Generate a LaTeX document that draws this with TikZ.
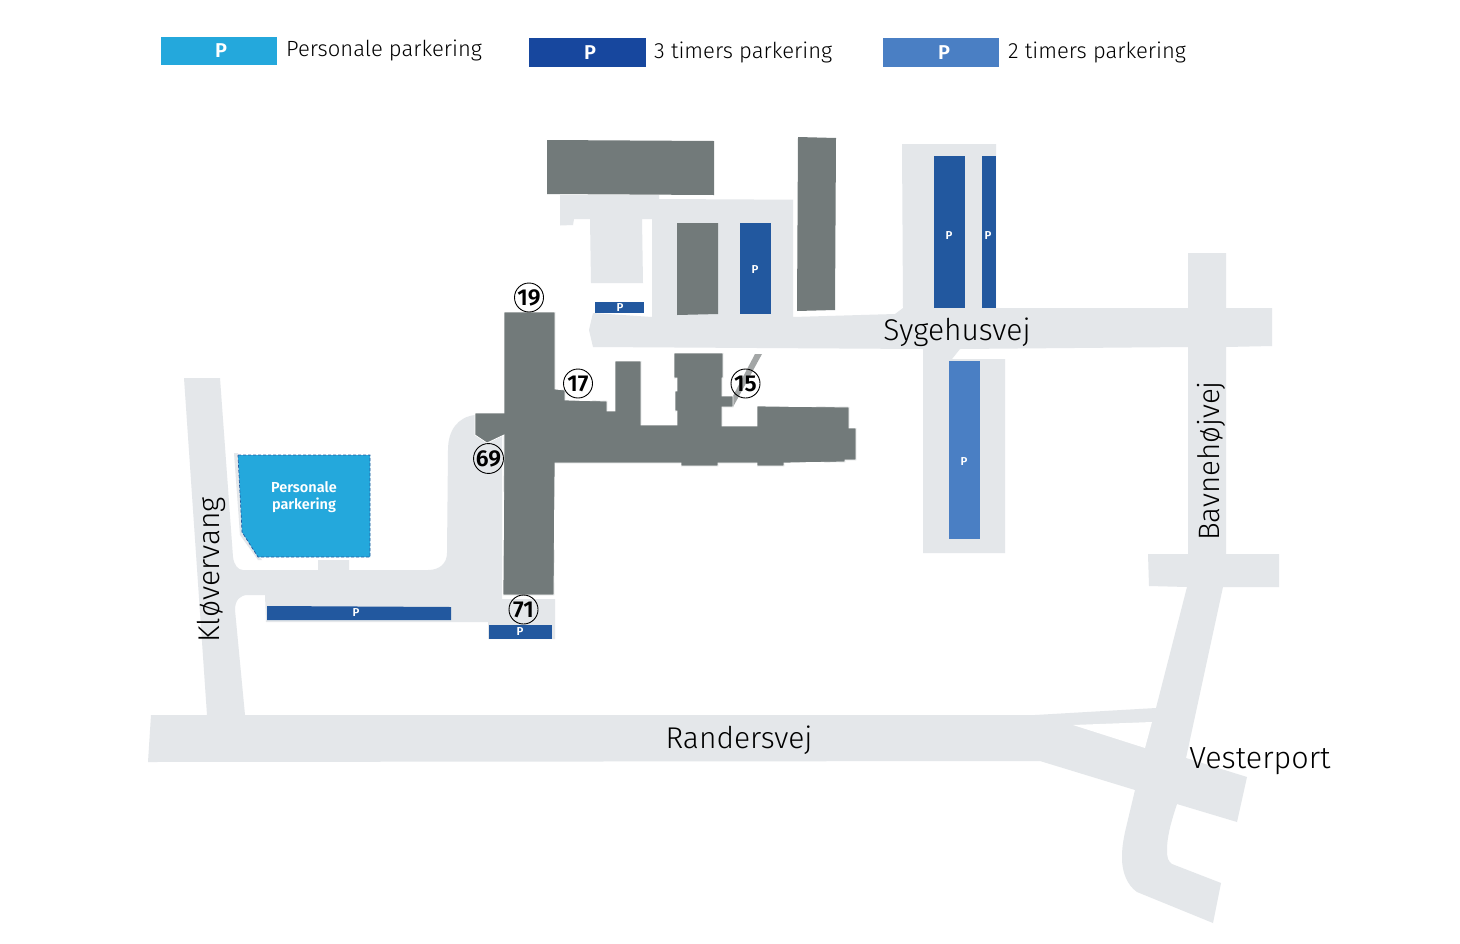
\documentclass[tikz,border=0pt]{standalone}
\usepackage{fontspec}
\setmainfont{Fira Sans}
\newfontfamily\lightf{Fira Sans Light}
\newfontfamily\boldf{Fira Sans SemiBold}
\definecolor{road}{HTML}{E4E7EA}
\definecolor{bldg}{HTML}{727A7A}
\definecolor{strip}{HTML}{A3A6A6}
\definecolor{staff}{HTML}{24A8DC}
\definecolor{bluea}{HTML}{22589F}
\definecolor{blueb}{HTML}{17479E}
\definecolor{bluec}{HTML}{4A7FC4}
\tikzset{
  roadarea/.style={fill=road,draw=none},
  building/.style={fill=bldg,draw=none},
  mainblock/.style={fill=bldg,draw=white,line width=0.8pt,line join=miter},
  bay/.style={fill=bluea,draw=none},
  pmark/.style={text=white,font=\boldf\fontsize{11.5}{11.5}\selectfont,inner sep=0pt},
  pbig/.style={text=white,font=\boldf\fontsize{20}{20}\selectfont,inner sep=0pt},
  legendtxt/.style={text=black,font=\lightf\fontsize{22}{24}\selectfont,anchor=west,inner sep=0pt},
  street/.style={text=black,font=\lightf\fontsize{30}{32}\selectfont,inner sep=0pt},
  numc/.style={circle,draw=black,line width=0.9pt,minimum size=29pt,inner sep=0pt,text=black,font=\boldf\fontsize{23}{23}\selectfont},
}
\begin{document}
\begin{tikzpicture}[x=1pt,y=-1pt]
\useasboundingbox (0,0) rectangle (1460,943);
\fill[white] (0,0) rectangle (1460,943);
% Sygehusvej and the yards north of it
\fill[roadarea] (589,330) -- (593,313) -- (652,317) -- (652,219) -- (642,219) -- (643,283) -- (591,283) -- (590,219) -- (574,219) -- (573,225) -- (560,225.5) -- (560,195) -- (659,195) -- (659,199) -- (793,199.7) -- (793,317) -- (895,314) -- (903,308) -- (902,144) -- (996,144) -- (996,308) -- (1188,308) -- (1188,253) -- (1226,253) -- (1226,308) -- (1272,308) -- (1272,346) -- (1226,347) -- (1226,554) -- (1279,554) -- (1279,587) -- (1223,587) -- (1186,758) -- (1247,777) -- (1237,822) -- (1177,804) .. controls (1170,825) and (1167,838) .. (1167,850) .. controls (1167,858) and (1168,861) .. (1172,864) -- (1221,883) -- (1213,923) -- (1137,892) .. controls (1127,885) and (1122,872) .. (1122,858) .. controls (1122,848) and (1123,842) .. (1125,832) -- (1135,790) -- (1040,761) -- (148,762) -- (151,715) -- (207,715) -- (184,378) -- (220,378) -- (233,557) .. controls (234,565) and (238,570) .. (243,570) -- (318,570) -- (318,560) -- (349,560) -- (349,570) -- (428,570) .. controls (440,570) and (447,563) .. (447,553) -- (448,450) .. controls (448,430) and (458,417) .. (475,415) -- (502,415) -- (502,599) -- (555,599) -- (555,639) -- (488,639) -- (488,622) -- (266,622) -- (265,595) -- (248,595) .. controls (240,595) and (235,600) .. (235,610) -- (245,715) -- (1035,715) -- (1156,708) -- (1187,587) -- (1149,586) -- (1148,554) -- (1188,554) -- (1188,347) -- (960,349) -- (952,359) -- (1005,359) -- (1005,553) -- (923,553) -- (923,349) -- (593,347) -- cycle;
\fill[white] (1073,725) -- (1152,722) -- (1145,748) -- cycle;
% staff parking
\fill[road] (234,453) -- (238,453) -- (244,535) -- (262,560) -- (258,560) -- (240,535) -- cycle;
\fill[staff] (238,455) -- (370,455) -- (370,557) -- (258,557) -- (242,532) -- cycle;
\draw[bluea,line width=0.7pt,densely dashed] (238,455) -- (370,455) -- (370,557) -- (258,557) -- (242,532) -- cycle;
% buildings
\fill[strip] (755,354) -- (762,354) -- (733,407) -- (733,396) -- cycle;
\path[mainblock] (504,312) -- (555,312) -- (555,389) -- (565,390) -- (565,400) -- (607,401) -- (607,411) -- (615,411) -- (615,361) -- (641,361) -- (641,425) -- (677,425) -- (677,411) -- (675,411) -- (675,391) -- (677,391) -- (677,378) -- (674,378) -- (674,353) -- (723,353) -- (723,378) -- (722,378) -- (722,396) -- (733,396) -- (733,407) -- (722,407) -- (722,426) -- (757,426) -- (757,406) -- (849,407) -- (849,428) -- (856,428) -- (856,460) -- (845,460) -- (845,462) -- (784,463) -- (784,466) -- (757,466) -- (757,463) -- (718,463) -- (718,466) -- (681,466) -- (681,463) -- (555,463) -- (554,595) -- (503,595) -- (504,435) -- (487,443) -- (475,435) -- (475,413) -- (504,413) -- cycle;
\fill[building] (547,140) -- (714,141) -- (714,195) -- (547,194) -- cycle;
\fill[building] (798,137) -- (836,138) -- (835,310) -- (797,311) -- cycle;
\fill[building] (677,223) -- (718,223) -- (718,314) -- (677,315) -- cycle;
% parking bays
\fill[bay] (740,223) rectangle (771,314);
\fill[bay] (934,156) rectangle (965,308);
\fill[bay] (982,156) rectangle (996,308);
\fill[bay] (595,302) rectangle (644,313);
\fill[bay] (267,606) -- (451,607) -- (451,620) -- (267,620) -- cycle;
\fill[bay] (489,625) rectangle (552,639);
\fill[bluec] (949,361) rectangle (980,539);
\node[pmark] (p1) at (755,270) {P};
\node[pmark] (p2) at (949,236) {P};
\node[pmark] (p3) at (988,236) {P};
\node[pmark] (p4) at (620,307.5) {P};
\node[pmark] (p5) at (356,613) {P};
\node[pmark] (p6) at (520,632) {P};
\node[pmark] (p7) at (964,462) {P};
% legend
\fill[staff] (161,37) rectangle (277,65);
\fill[blueb] (529,38) rectangle (646,67);
\fill[bluec] (883,38) rectangle (999,67);
\node[pbig] (l1) at (221,50.5) {P};
\node[pbig] (l2) at (590,53) {P};
\node[pbig] (l3) at (944,53) {P};
\node[legendtxt] (t1) at (286,50) {Personale parkering};
\node[legendtxt] (t2) at (654,52) {3 timers parkering};
\node[legendtxt] (t3) at (1008,52) {2 timers parkering};
\node[text=white,font=\boldf\fontsize{14.5}{16.5}\selectfont,align=center,inner sep=0pt] (staffl) at (304,497) {Personale\\parkering};
% street names
\node[street] (s1) at (957,332) {Sygehusvej};
\node[street] (s2) at (739,740) {Randersvej};
\node[street,font=\lightf\fontsize{30.5}{32}\selectfont] (s3) at (1260,761) {Vesterport};
\node[street,rotate=90] (s4) at (211,570) {Kløvervang};
\node[street,rotate=90,font=\lightf\fontsize{29.5}{32}\selectfont] (s5) at (1211,461) {Bavnehøjvej};
% numbers
\node[numc] (n19) at (529,297.5) {19};
\node[numc] (n17) at (578,383.5) {17};
\node[numc] (n15) at (745.5,383.5) {15};
\node[numc] (n69) at (488.5,458.5) {69};
\node[numc] (n71) at (523.5,609.5) {71};
\end{tikzpicture}
\end{document}
